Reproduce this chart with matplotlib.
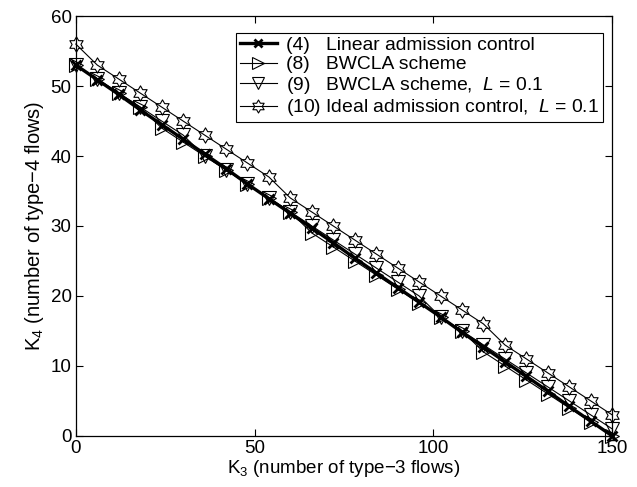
import matplotlib
matplotlib.use("Agg")
import matplotlib.pyplot as plt
from matplotlib.path import Path

plt.rcParams['font.family'] = ['Liberation Sans', 'DejaVu Sans']
plt.rcParams['mathtext.fontset'] = 'custom'
plt.rcParams['mathtext.rm'] = 'Liberation Sans'
plt.rcParams['mathtext.it'] = 'Liberation Sans:italic'

# K3 values (x axis)
k3 = [0, 6, 12, 18, 24, 30, 36, 42, 48, 54, 60, 66, 72, 78, 84, 90, 96,
      102, 108, 114, 120, 126, 132, 138, 144, 150]

# (4) linear admission control
linear = [53, 50.9, 48.8, 46.6, 44.5, 42.4, 40.3, 38.2, 36.0, 33.9, 31.8,
          29.7, 27.6, 25.4, 23.3, 21.2, 19.1, 17.0, 14.8, 12.7, 10.6, 8.5,
          6.4, 4.2, 2.1, 0]
# (8) BWCLA scheme
bwcla = [53, 51, 49, 47, 44, 42, 40, 38, 36, 34, 32, 29, 27, 25, 23, 21,
         19, 17, 15, 12, 10, 8, 6, 4, 2, 0]
# (9) BWCLA scheme, L = 0.1
bwcla_l = [53, 51, 49, 47, 45, 43, 40, 38, 36, 34, 32, 30, 28, 26, 24, 22,
           20, 17, 15, 13, 11, 9, 7, 5, 3, 1]
# (10) ideal admission control, L = 0.1
ideal = [56, 53, 51, 49, 47, 45, 43, 41, 39, 37, 34, 32, 30, 28, 26, 24,
         22, 20, 18, 16, 13, 11, 9, 7, 5, 3]

hexagram = Path.unit_regular_star(6, 0.577)

fig = plt.figure(figsize=(6.37, 4.87), dpi=100)
ax = fig.add_axes([0.119, 0.105, 0.842, 0.862])

ax.plot(k3, linear, color='black', lw=2.4, marker='x', ms=7, mew=2,
        clip_on=False, zorder=5, label='(4)   Linear admission control')
ax.plot(k3, bwcla, color='black', lw=0.8, marker='>', ms=10, mfc='none',
        mew=0.8, clip_on=False, zorder=4, label='(8)   BWCLA scheme')
ax.plot(k3, bwcla_l, color='black', lw=0.8, marker='v', ms=10, mfc='none',
        mew=0.8, clip_on=False, zorder=4,
        label='(9)   BWCLA scheme,  $L$ = 0.1')
ax.plot(k3, ideal, color='black', lw=0.8, marker=hexagram, ms=11, mfc='none',
        mew=0.8, clip_on=False, zorder=4,
        label='(10) Ideal admission control,  $L$ = 0.1')

ax.set_xlim(0, 150)
ax.set_ylim(0, 60)
ax.set_xticks([0, 50, 100, 150])
ax.set_yticks([0, 10, 20, 30, 40, 50, 60])
ax.tick_params(direction='in', top=True, right=True, labelsize=13.5, length=5,
               width=0.8, pad=3)
for s in ax.spines.values():
    s.set_linewidth(0.9)

ax.set_xlabel('K$_3$ (number of type\u22123 flows)', fontsize=13.5, labelpad=1)
ax.set_ylabel('K$_4$ (number of type\u22124 flows)', fontsize=14.5, labelpad=3)

leg = ax.legend(loc='upper right', bbox_to_anchor=(0.983, 0.96),
                borderaxespad=0, fontsize=13.9, fancybox=False,
                edgecolor='black', framealpha=1, handlelength=1.9,
                labelspacing=0.08, borderpad=0.2, handletextpad=0.5,
                markerscale=0.85)
leg.get_frame().set_linewidth(0.8)

fig.savefig('out.png', dpi=100)
